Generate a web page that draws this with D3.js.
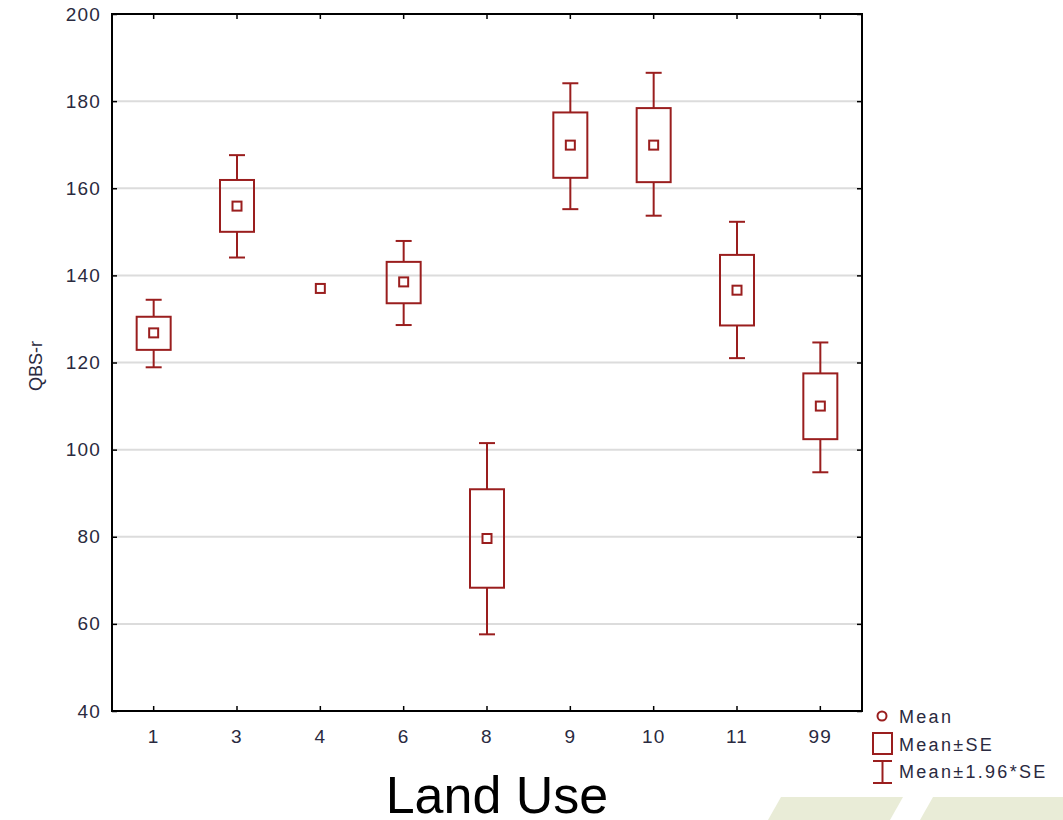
<!DOCTYPE html>
<html>
<head>
<meta charset="utf-8">
<script src="https://cdn.jsdelivr.net/npm/d3@7"></script>
<style>
  body { margin: 0; background: #fff; }
  svg { display: block; font-family: "Liberation Sans", Arial, sans-serif; }
</style>
</head>
<body>
<svg id="chart" width="1063" height="820"></svg>
<script>
// Land use categories and QBS-r summary values
const categories = ["1", "3", "4", "6", "8", "9", "10", "11", "99"];
const means   = [126.8, 155.9, 137.0, 138.5, 79.6, 169.9, 169.9, 136.6, 110.0];
const seLow   = [122.9, 150.0, null, 133.6, 68.3, 162.4, 161.4, 128.5, 102.4];
const seHigh  = [130.5, 161.9, null, 143.1, 90.9, 177.4, 178.4, 144.7, 117.5];
const ciLow   = [118.9, 144.1, null, 128.6, 57.6, 155.2, 153.7, 121.0, 94.8];
const ciHigh  = [134.4, 167.6, null, 147.9, 101.5, 184.1, 186.5, 152.3, 124.6];
const yTicks  = [40, 60, 80, 100, 120, 140, 160, 180, 200];
const legendLabels = ["Mean", "Mean±SE", "Mean±1.96*SE"];

const RED = "#9a1e1e";
const svg = d3.select("#chart");

// slide decoration, bottom right
const deco = svg.append("g");
deco.append("polygon").attr("points", "781,797 903,797 890,820 768,820").attr("fill", "#e9ecd7");
deco.append("polygon").attr("points", "933,797 1063,797 1063,820 920,820").attr("fill", "#e9ecd7");

const m = { left: 112, right: 862, top: 14, bottom: 711 };
const x = d3.scaleBand().domain(categories).range([m.left, m.right]);
const y = d3.scaleLinear().domain([40, 200]).range([m.bottom, m.top]);
const cx = c => x(c) + x.bandwidth() / 2;

// Grid
svg.append("g").selectAll("line").data(yTicks.filter(t => t > 40 && t < 200)).join("line")
  .attr("x1", m.left).attr("x2", m.right).attr("y1", d => y(d)).attr("y2", d => y(d))
  .attr("stroke", "#dcdcdc").attr("stroke-width", 2);

// Axes (ticks inside the frame)
const fmt = g => g.call(s => s.select(".domain").remove())
  .call(s => s.selectAll("line").attr("stroke", "#000").attr("stroke-width", 1.5));
const lbl = g => g.selectAll("text").attr("font-size", 19).attr("letter-spacing", 1.2).attr("fill", "#2a2a40");
svg.append("g").attr("transform", `translate(${m.left},0)`)
  .call(d3.axisLeft(y).tickValues(yTicks).tickSizeInner(-5).tickSizeOuter(0).tickPadding(11))
  .call(fmt).call(lbl);
svg.append("g").attr("transform", `translate(0,${m.bottom})`)
  .call(d3.axisBottom(x).tickSizeInner(-5).tickSizeOuter(0).tickPadding(19))
  .call(fmt).call(lbl);
svg.append("g").attr("transform", `translate(0,${m.top})`)
  .call(d3.axisTop(x).tickSizeInner(-5).tickSizeOuter(0).tickFormat(""))
  .call(fmt);
svg.append("g").attr("transform", `translate(${m.right},0)`)
  .call(d3.axisRight(y).tickValues(yTicks).tickSizeInner(-5).tickSizeOuter(0).tickFormat(""))
  .call(fmt);

// Frame
svg.append("rect").attr("x", m.left).attr("y", m.top).attr("width", m.right - m.left).attr("height", m.bottom - m.top)
  .attr("fill", "none").attr("stroke", "#000").attr("stroke-width", 2);

// Boxes and whiskers
const boxW = 34, capW = 16, meanS = 9;
const rows = categories.map((c, i) => ({ c, m: means[i], sl: seLow[i], sh: seHigh[i], cl: ciLow[i], ch: ciHigh[i] }));
const g = svg.append("g").attr("stroke", RED).attr("stroke-width", 2).attr("fill", "none");
rows.filter(d => d.sl != null).forEach(d => {
  const xc = cx(d.c);
  g.append("line").attr("x1", xc).attr("x2", xc).attr("y1", y(d.ch)).attr("y2", y(d.sh));
  g.append("line").attr("x1", xc).attr("x2", xc).attr("y1", y(d.sl)).attr("y2", y(d.cl));
  g.append("line").attr("x1", xc - capW / 2).attr("x2", xc + capW / 2).attr("y1", y(d.ch)).attr("y2", y(d.ch));
  g.append("line").attr("x1", xc - capW / 2).attr("x2", xc + capW / 2).attr("y1", y(d.cl)).attr("y2", y(d.cl));
  g.append("rect").attr("x", xc - boxW / 2).attr("y", y(d.sh)).attr("width", boxW).attr("height", y(d.sl) - y(d.sh));
});
g.selectAll("rect.mean").data(rows).join("rect").attr("class", "mean")
  .attr("x", d => cx(d.c) - meanS / 2).attr("y", d => y(d.m) - meanS / 2)
  .attr("width", meanS).attr("height", meanS).attr("fill", "#fff");

// Axis titles
svg.append("text").attr("transform", "translate(42,366) rotate(-90)").attr("text-anchor", "middle")
  .attr("font-size", 18).attr("fill", "#2a2a40").text("QBS-r");
svg.append("text").attr("x", 497).attr("y", 813).attr("text-anchor", "middle")
  .attr("font-size", 52).attr("fill", "#000").text("Land Use");

// Legend
const lg = svg.append("g");
const ly = [716, 743, 771];
lg.append("circle").attr("cx", 882).attr("cy", ly[0]).attr("r", 4.5).attr("fill", "none").attr("stroke", RED).attr("stroke-width", 2);
lg.append("rect").attr("x", 873).attr("y", 733).attr("width", 19).attr("height", 21).attr("fill", "none").attr("stroke", RED).attr("stroke-width", 2);
lg.append("line").attr("x1", 882.5).attr("x2", 882.5).attr("y1", 760).attr("y2", 784).attr("stroke", RED).attr("stroke-width", 2);
lg.append("line").attr("x1", 873).attr("x2", 892).attr("y1", 761).attr("y2", 761).attr("stroke", RED).attr("stroke-width", 2);
lg.append("line").attr("x1", 873).attr("x2", 892).attr("y1", 783).attr("y2", 783).attr("stroke", RED).attr("stroke-width", 2);
lg.selectAll("text").data(legendLabels).join("text")
  .attr("x", 899).attr("y", (d, i) => [723, 751, 778][i])
  .attr("font-size", 18).attr("letter-spacing", 2.3).attr("fill", "#2a2a40").text(d => d);
</script>
</body>
</html>
